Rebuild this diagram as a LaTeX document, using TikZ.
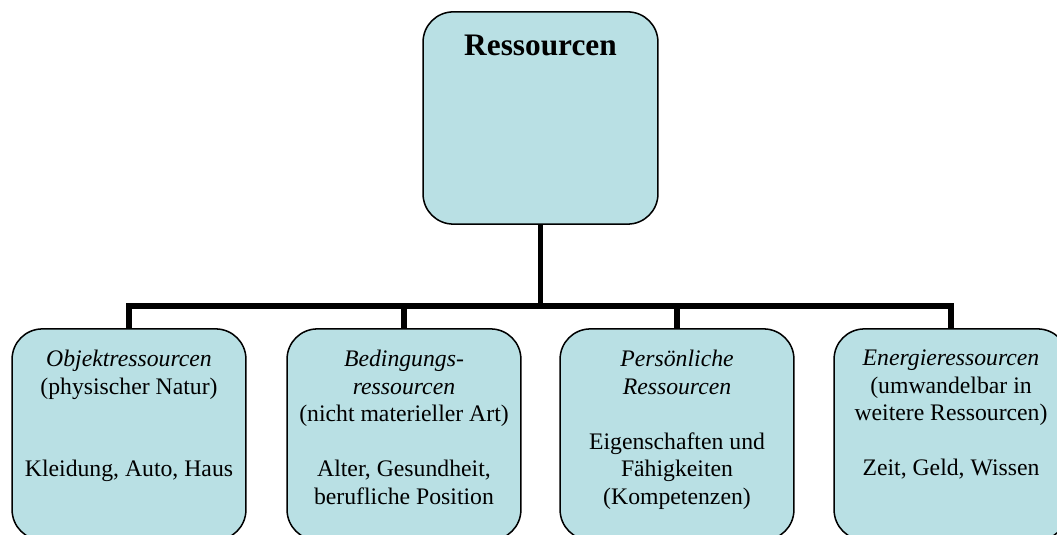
\documentclass[tikz,border=0pt]{standalone}
\usepackage{fontspec}
\setmainfont{Liberation Serif}
\usepackage{tikz}
\definecolor{boxblue}{RGB}{185,224,228}
\def\boxtext#1{\parbox[c][3.9cm][t]{4.3cm}{\centering\vspace{11pt}#1}}

\begin{document}
\begin{tikzpicture}[
	root/.style={draw=black, line width=0.8pt, fill=boxblue, rounded corners=0.56cm,
		minimum width=4.35cm, minimum height=3.93cm, inner sep=0pt},
	leaf/.style={draw=black, line width=0.8pt, fill=boxblue, rounded corners=0.56cm,
		minimum width=4.33cm, minimum height=3.91cm, inner sep=0pt,
		font=\fontsize{12.5}{14.5}\selectfont},
	conn/.style={line width=2.9pt, line join=miter}
	]
			%%%%% START %%%%%
			
			\useasboundingbox (0, 0) rectangle (19.574, 9.907);
			\clip (0, 0) rectangle (19.574, 9.907);
			
			\node[root] (res) at (10.009, 7.722) {\parbox[c][3.93cm][t]{4.3cm}{\centering\vspace{12pt}\fontsize{16.5}{20}\selectfont\bfseries Ressourcen}};
			
			\coordinate (split) at (10.009, 4.241);
			
			\node[leaf] (obj) at (2.389, 1.861) {\boxtext{\textit{Objektressourcen}\\(physischer Natur)\\[2\baselineskip]Kleidung, Auto, Haus}};
			\node[leaf] (bed) at (7.481, 1.861) {\boxtext{\textit{Bedingungs-}\\\textit{ressourcen}\\(nicht materieller Art)\\[\baselineskip]Alter, Gesundheit,\\berufliche Position}};
			\node[leaf] (pers) at (12.537, 1.861) {\boxtext{\textit{Persönliche}\\\textit{Ressourcen}\\[\baselineskip]Eigenschaften und\\Fähigkeiten\\(Kompetenzen)}};
			\node[leaf] (ener) at (17.611, 1.861) {\boxtext{\textit{Energieressourcen}\\(umwandelbar in\\weitere Ressourcen)\\[\baselineskip]Zeit, Geld, Wissen}};
			
			\draw[conn] (res.south) -- (split) -| (obj.north);
			\draw[conn] (res.south) -- (split) -| (bed.north);
			\draw[conn] (res.south) -- (split) -| (pers.north);
			\draw[conn] (res.south) -- (split) -| (ener.north);
			
			%%%%% END %%%%%
\end{tikzpicture}
\end{document}
